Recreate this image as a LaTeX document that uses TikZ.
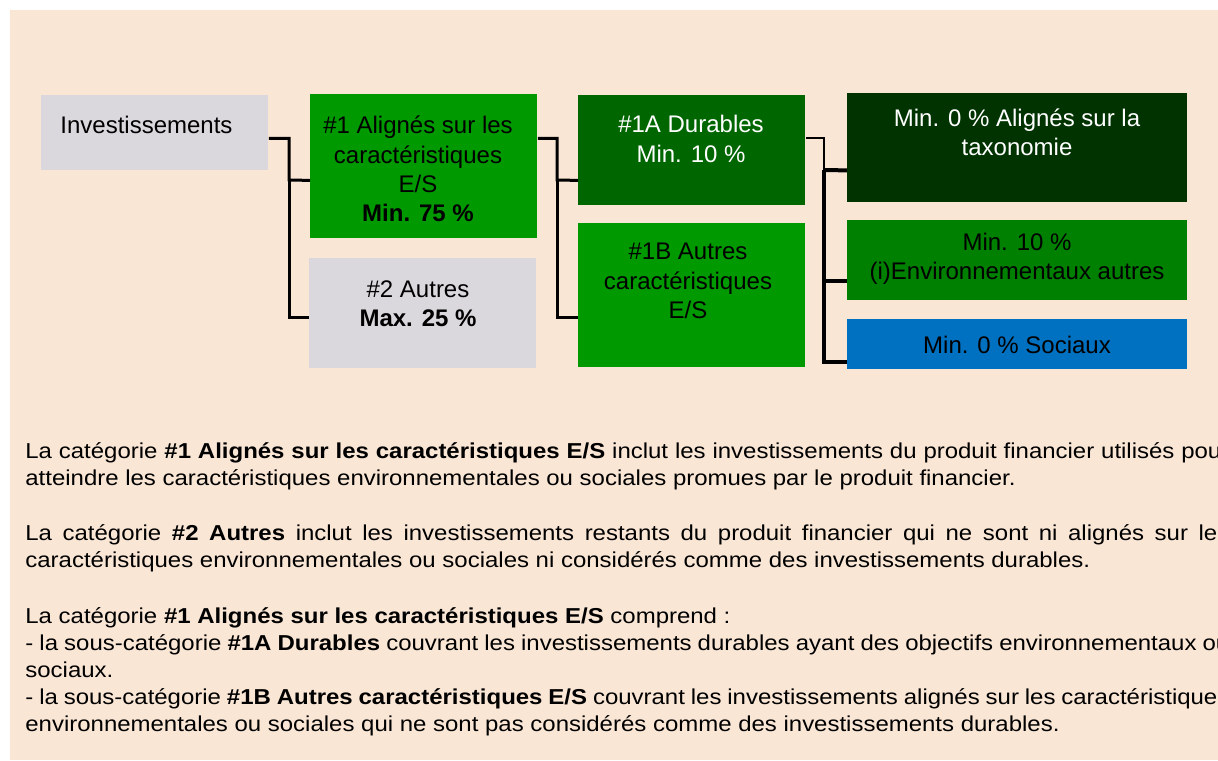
\documentclass[tikz,border=0pt]{standalone}
\usepackage{fontspec}
\setmainfont{Liberation Sans}
\newfontfamily\bodyfont{Liberation Sans}[FakeStretch=1.11]
\usetikzlibrary{positioning}
\definecolor{peach}{HTML}{FAE6D5}
\definecolor{boxgray}{HTML}{DBD8DD}
\definecolor{esgreen}{HTML}{009900}
\definecolor{durgreen}{HTML}{006600}
\definecolor{taxgreen}{HTML}{003300}
\definecolor{envgreen}{HTML}{008000}
\definecolor{socblue}{HTML}{0070C0}
\newcommand{\fullline}[1]{\makebox[602pt][s]{#1}}

\begin{document}
\begin{tikzpicture}[x=0.5pt,y=-0.5pt,
    box/.style={anchor=north west,inner sep=0pt,minimum width=113.5pt},
    wide/.style={anchor=north west,inner sep=0pt,minimum width=170pt},
    lbl/.style={align=center,inner sep=0pt,font=\fontsize{12}{14.6}\selectfont},
    conn/.style={line width=1.5pt},
    para/.style={anchor=base west,align=left,inner sep=0pt,font=\bodyfont\fontsize{10.8}{13.5}\selectfont}]
  \useasboundingbox (0,0) rectangle (1218,760);
  \fill[peach] (10,10) rectangle (1218,760);

  % boxes
  \node[box,fill=boxgray,minimum height=37.5pt]     (inv) at (41,95)  {};
  \node[box,fill=esgreen,minimum height=72pt]       (es)  at (310,94) {};
  \node[box,fill=boxgray,minimum height=55pt]       (oth) at (309,258) {};
  \node[box,fill=durgreen,minimum height=55pt]      (dur) at (578,95) {};
  \node[box,fill=esgreen,minimum height=72pt]       (oes) at (578,223) {};
  \node[wide,fill=taxgreen,minimum height=54.5pt]   (tax) at (847,93) {};
  \node[wide,fill=envgreen,minimum height=40pt]     (env) at (847,220) {};
  \node[wide,fill=socblue,minimum height=25pt]      (soc) at (847,319) {};

  % texts
  \node[lbl,anchor=west] (inv-t) at (60,125) {Investissements};
  \node[lbl] (es-t)  at (418,169) {\#1 Alignés sur les\\caractéristiques\\E/S\\\textbf{Min. 75 \%}};
  \node[lbl] (oth-t) at (418,304) {\#2 Autres\\\textbf{Max. 25 \%}};
  \node[lbl,text=white] (dur-t) at (691,139) {\#1A Durables\\Min. 10 \%};
  \node[lbl] (oes-t) at (688,281) {\#1B Autres\\caractéristiques\\E/S};
  \node[lbl,text=white] (tax-t) at (1017,132) {Min. 0 \% Alignés sur la\\taxonomie};
  \node[lbl] (env-t) at (1017,259) {Min. 10 \%\\(i)Environnementaux autres};
  \node[lbl] (soc-t) at (1017,345) {Min. 0 \% Sociaux};

  % connectors
  \coordinate (j1) at (289,180);
  \coordinate (j2) at (557,180);
  \coordinate (j3) at (824,170);
  \draw[conn] ([yshift=-2.75pt]inv.east) -| (j1) -- ([yshift=-7pt]es.west);
  \draw[conn] (j1) |- ([yshift=-2pt]oth.west);
  \draw[conn] ([yshift=14pt]es.east) -| (j2) -- ([yshift=-15pt]dur.west);
  \draw[conn] (j2) |- ([yshift=-11pt]oes.west);
  \draw[conn,line width=1pt] ([yshift=6pt]dur.east) -| (j3);
  \draw[conn,line width=2pt] (j3) -- ([yshift=-11.25pt]tax.west);
  \draw[conn,line width=2pt] (j3) |- ([yshift=-10.5pt]env.west);
  \draw[conn,line width=2pt] (j3) |- ([yshift=-9pt]soc.west);

  % notes (base = last line)
  \node[para] (p1) at (25,485) {\fullline{La catégorie \textbf{\#1 Alignés sur les caractéristiques E/S} inclut les investissements du produit financier utilisés pour}\\
    atteindre les caractéristiques environnementales ou sociales promues par le produit financier.};
  \node[para] (p2) at (25,567) {\fullline{La catégorie \textbf{\#2 Autres} inclut les investissements restants du produit financier qui ne sont ni alignés sur les}\\
    caractéristiques environnementales ou sociales ni considérés comme des investissements durables.};
  \node[para] (p3) at (25,731) {La catégorie \textbf{\#1 Alignés sur les caractéristiques E/S} comprend :\\
    \fullline{- la sous-catégorie \textbf{\#1A Durables} couvrant les investissements durables ayant des objectifs environnementaux ou}\\
    sociaux.\\
    \fullline{- la sous-catégorie \textbf{\#1B Autres caractéristiques E/S} couvrant les investissements alignés sur les caractéristiques}\\
    environnementales ou sociales qui ne sont pas considérés comme des investissements durables.};
\end{tikzpicture}
\end{document}
